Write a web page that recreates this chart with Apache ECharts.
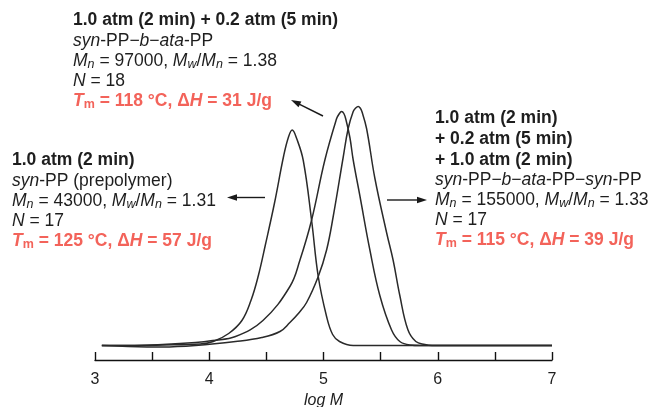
<!DOCTYPE html>
<html>
<head>
<meta charset="utf-8">
<script src="https://cdn.jsdelivr.net/npm/echarts@6/dist/echarts.min.js"></script>
<style>html,body{margin:0;padding:0;background:#fff}#c{width:651px;height:407px}</style>
</head>
<body>
<div id="c"></div>
<script>
// x ticks
const xTicks = [3, 3.5, 4, 4.5, 5, 5.5, 6, 6.5, 7];
const xLabels = ['3', '', '4', '', '5', '', '6', '', '7'];

// Curve 1: 1.0 atm (2 min), syn-PP prepolymer
const logM1 = [3.06,3.29,3.59,3.92,4.035,4.17,4.286,4.365,4.43,4.49,4.572,4.652,4.695,4.726,4.765,4.823,4.896,4.954,5.027,5.08,5.14,5.26,7.0];
const int1  = [0,0,0.5,1.5,4,12,25,45,70,100,143,190,209,215.5,207,185,125,69,29,11,4,0,0];

// Curve 2: 1.0 atm (2 min) + 0.2 atm (5 min)
const logM2 = [3.06,3.29,3.59,3.88,4.03,4.23,4.47,4.706,4.794,4.896,5.012,5.115,5.134,5.158,5.178,5.196,5.231,5.26,5.318,5.406,5.493,5.596,5.668,5.756,5.85,7.0];
const int2  = [0,0,1,3,5,9,25,59,85.5,125.5,185.5,227,231,234,232,226,208,185.5,150,95.5,50,15.5,4,0.5,0,0];

// Curve 3: + 1.0 atm (2 min)
const logM3 = [3.06,3.29,3.59,3.88,4.23,4.46,4.619,4.706,4.78,4.852,4.954,5.027,5.085,5.172,5.216,5.26,5.282,5.304,5.321,5.336,5.377,5.45,5.552,5.61,5.668,5.738,5.808,5.887,5.95,7.0];
const int3  = [0,-1,-1.5,0,4,8,14,23,32,43,69,95.5,129,188,217,234,237.5,239,237.5,234,217,167,113,85,50,16,4,1,0,0];

const zip = (a, b) => a.map((v, i) => [v, b[i]]);

const FF = '"Liberation Sans", Arial, sans-serif';
const INK = '#1e1e1e';
const RED = '#f3635a';
const FS = 17.5;
const rich = {
  h:  {fontFamily: FF, fontSize: FS, fontWeight: 'bold', fill: INK, lineHeight: 22},
  h2: {fontFamily: FF, fontSize: FS, fontWeight: 'bold', fill: INK, lineHeight: 21},
  r:  {fontFamily: FF, fontSize: FS, fill: INK, lineHeight: 20},
  i:  {fontFamily: FF, fontSize: FS, fontStyle: 'italic', fill: INK, lineHeight: 20},
  s:  {fontFamily: FF, fontSize: 12.5, fontStyle: 'italic', fill: INK, lineHeight: 10, verticalAlign: 'bottom'},
  rb: {fontFamily: FF, fontSize: FS, fontWeight: 'bold', fill: RED, lineHeight: 20},
  ri: {fontFamily: FF, fontSize: FS, fontWeight: 'bold', fontStyle: 'italic', fill: RED, lineHeight: 20},
  rs: {fontFamily: FF, fontSize: 12.5, fontWeight: 'bold', fill: RED, lineHeight: 10, verticalAlign: 'bottom'}
};

const block1 = [
  '{h|1.0 atm (2 min) + 0.2 atm (5 min)}',
  '{i|syn}{r|-PP\u2212}{i|b}{r|\u2212}{i|ata}{r|-PP}',
  '{i|M}{s|n}{r| = 97000, }{i|M}{s|w}{r|/}{i|M}{s|n}{r| = 1.38}',
  '{i|N}{r| = 18}',
  '{ri|T}{rs|m}{rb| = 118 °C, \u0394}{ri|H}{rb| = 31 J/g}'
].join('\n');
const block2 = [
  '{h|1.0 atm (2 min)}',
  '{i|syn}{r|-PP (prepolymer)}',
  '{i|M}{s|n}{r| = 43000, }{i|M}{s|w}{r|/}{i|M}{s|n}{r| = 1.31}',
  '{i|N}{r| = 17}',
  '{ri|T}{rs|m}{rb| = 125 °C, \u0394}{ri|H}{rb| = 57 J/g}'
].join('\n');
const block3 = [
  '{h2|1.0 atm (2 min)}',
  '{h2|+ 0.2 atm (5 min)}',
  '{h2|+ 1.0 atm (2 min)}',
  '{i|syn}{r|-PP\u2212}{i|b}{r|\u2212}{i|ata}{r|-PP\u2212}{i|syn}{r|-PP}',
  '{i|M}{s|n}{r| = 155000, }{i|M}{s|w}{r|/}{i|M}{s|n}{r| = 1.33}',
  '{i|N}{r| = 17}',
  '{ri|T}{rs|m}{rb| = 115 °C, \u0394}{ri|H}{rb| = 39 J/g}'
].join('\n');

function arrow(x1, y1, x2, y2) {
  const dx = x2 - x1, dy = y2 - y1, len = Math.hypot(dx, dy);
  const ux = dx / len, uy = dy / len, hl = 10, hw = 3.2;
  const bx = x2 - ux * hl, by = y2 - uy * hl;
  return [
    {type: 'line', shape: {x1: x1, y1: y1, x2: bx + ux * 2, y2: by + uy * 2}, style: {stroke: '#1a1a1a', lineWidth: 1.4}},
    {type: 'polygon', shape: {points: [[x2, y2], [bx - uy * hw, by + ux * hw], [bx + uy * hw, by - ux * hw]]}, style: {fill: '#1a1a1a'}}
  ];
}

const chart = echarts.init(document.getElementById('c'), null, {renderer: 'canvas'});
const lineStyle = {color: '#2a2a2a', width: 1.5};
const seriesBase = {type: 'line', showSymbol: false, smooth: 0.4, lineStyle: lineStyle};
chart.setOption({
  backgroundColor: '#ffffff',
  animation: false,
  grid: {left: 95, right: 99, top: 100, bottom: 47, containLabel: false, outerBoundsMode: 'none'},
  xAxis: {
    type: 'value', min: 3, max: 7, interval: 0.5,
    name: 'log M', nameLocation: 'middle', nameGap: 31,
    nameTextStyle: {fontFamily: FF, fontSize: 16, fontStyle: 'italic', color: INK},
    axisLine: {show: true, onZero: false, lineStyle: {color: '#111', width: 1.4}},
    axisTick: {show: true, inside: true, length: 8, lineStyle: {color: '#111', width: 1.4}},
    axisLabel: {
      margin: 12, fontFamily: FF, fontSize: 16, color: INK,
      formatter: v => { const k = xTicks.indexOf(Math.round(v * 10) / 10); return k >= 0 ? xLabels[k] : ''; }
    },
    splitLine: {show: false}
  },
  yAxis: {type: 'value', min: -14.5, max: 245.5, show: false, splitLine: {show: false}},
  series: [
    Object.assign({data: zip(logM1, int1)}, seriesBase),
    Object.assign({data: zip(logM2, int2)}, seriesBase),
    Object.assign({data: zip(logM3, int3)}, seriesBase)
  ],
  graphic: [
    {type: 'text', x: 73, y: 9, style: {text: block1, rich: rich, fontFamily: FF, fontSize: FS}},
    {type: 'text', x: 12, y: 149, style: {text: block2, rich: rich, fontFamily: FF, fontSize: FS}},
    {type: 'text', x: 435, y: 107.5, style: {text: block3, rich: rich, fontFamily: FF, fontSize: FS}}
  ].concat(arrow(323, 116, 291, 100), arrow(265, 197.5, 227, 197.5), arrow(387, 200, 427, 200))
});
</script>
</body>
</html>
